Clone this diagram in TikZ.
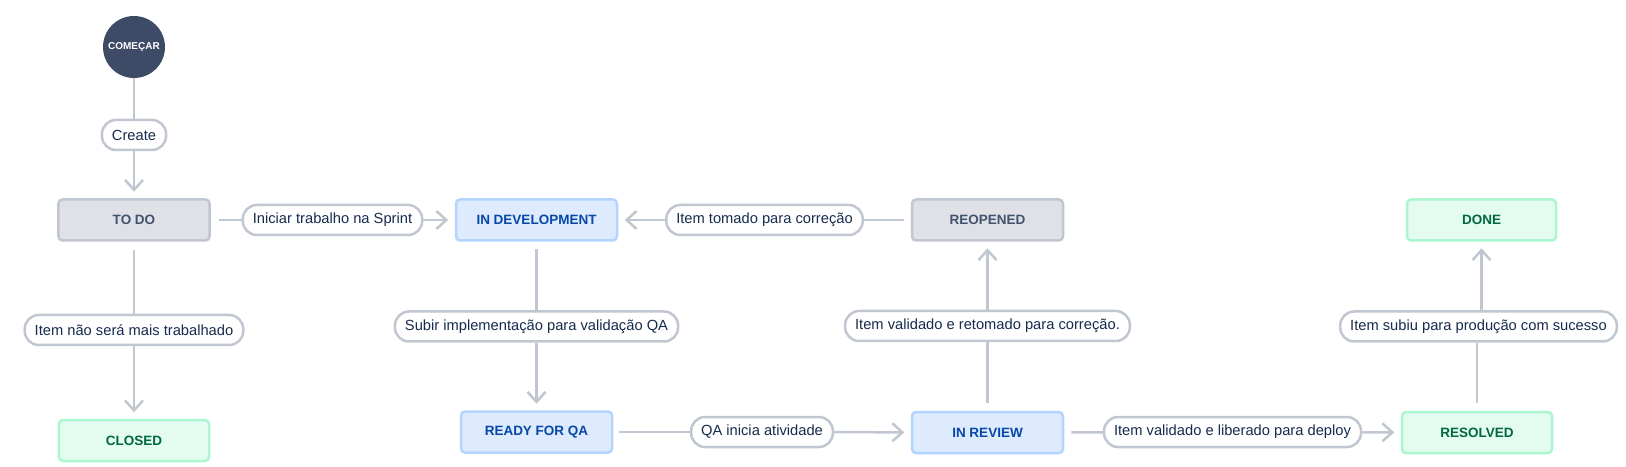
\documentclass[tikz,border=0pt]{standalone}
\usepackage{fontspec}
\setmainfont{Liberation Sans}
\usetikzlibrary{arrows.meta}
\definecolor{grayfill}{HTML}{DFE1E6}
\definecolor{grayborder}{HTML}{C1C7D0}
\definecolor{graytext}{HTML}{42526E}
\definecolor{bluefill}{HTML}{DEEBFF}
\definecolor{blueborder}{HTML}{B3D4FF}
\definecolor{bluetext}{HTML}{0747A6}
\definecolor{greenfill}{HTML}{E3FCEF}
\definecolor{greenborder}{HTML}{ABF5D1}
\definecolor{greentext}{HTML}{006644}
\definecolor{lineC}{HTML}{C1C7D0}
\definecolor{labeltext}{HTML}{172B4D}
\definecolor{startfill}{HTML}{3E4B66}
\begin{document}
\begin{tikzpicture}[x=1bp,y=-1bp,
  state/.style={draw, line width=2.5bp, rounded corners=4bp, minimum width=151bp, minimum height=41bp, inner sep=0pt, font=\fontsize{13.5bp}{16bp}\selectfont\bfseries},
  graybox/.style={state, fill=grayfill, draw=grayborder, text=graytext},
  bluebox/.style={state, fill=bluefill, draw=blueborder, text=bluetext},
  greenbox/.style={state, fill=greenfill, draw=greenborder, text=greentext},
  lbl/.style={draw=lineC, line width=2.5bp, fill=white, rounded corners=14bp, minimum height=30bp, inner xsep=10bp, inner ysep=0pt, text=labeltext, font=\fontsize{14.7bp}{17bp}\selectfont},
  conn/.style={draw=lineC, line width=2.5bp},
  arr/.style={conn, -{Straight Barb[length=10bp,width=18bp]}, shorten >=6.5bp}
]
\useasboundingbox (0,0) rectangle (1626,467);

\node[circle, fill=startfill, minimum size=62bp, inner sep=0pt, text=white, font=\fontsize{10bp}{12bp}\selectfont\bfseries] (start) at (134,47) {COMEÇAR};
\node[lbl] (create) at (134,135) {Create};

\node[graybox] (todo) at (134,220) {TO DO};
\node[bluebox, minimum width=161bp] (indev) at (536.5,220) {IN DEVELOPMENT};
\node[graybox] (reopened) at (987.5,220) {REOPENED};
\node[greenbox, minimum width=149bp] (done) at (1481.5,220) {DONE};

\node[bluebox] (ready) at (536.5,432) {READY FOR QA};
\node[bluebox] (inreview) at (987.5,432.5) {IN REVIEW};
\node[greenbox, minimum width=150bp] (resolved) at (1477,432.5) {RESOLVED};
\node[greenbox, minimum width=150bp] (closed) at (134,440.5) {CLOSED};

\node[lbl] (lini) at (332.5,220) {Iniciar trabalho na Sprint};
\node[lbl] (ltom) at (764.5,220) {Item tomado para correção};
\node[lbl] (lsub) at (536.5,326.5) {Subir implementação para validação QA};
\node[lbl] (lqa) at (762,432) {QA inicia atividade};
\node[lbl] (lret) at (987.5,326) {Item validado e retomado para correção.};
\node[lbl] (llib) at (1232.5,432) {Item validado e liberado para deploy};
\node[lbl] (lsub2) at (1478.5,326.5) {Item subiu para produção com sucesso};
\node[lbl] (lnao) at (134,330) {Item não será mais trabalhado};

\draw[conn] (start) -- (create);
\draw[arr] (create) -- (todo);
\draw[conn, shorten <=8bp] (todo) -- (lini);
\draw[arr] (lini) -- (indev);
\draw[conn, shorten <=7bp] (reopened) -- (ltom);
\draw[arr] (ltom) -- (indev);
\draw[conn, shorten <=7bp] (indev) -- (lsub);
\draw[arr] (lsub) -- (ready);
\draw[conn, shorten <=6bp] (ready) -- (lqa);
\draw[arr] (lqa) -- (inreview);
\draw[conn, shorten <=7bp] (inreview) -- (llib);
\draw[arr] (llib) -- (resolved);
\draw[conn, shorten <=8bp] (inreview) -- (lret);
\draw[arr] (lret) -- (reopened);
\draw[conn, shorten <=8bp] (resolved.north) -- (resolved.north |- lsub2.south);
\draw[arr] (lsub2.north -| done.south) -- (done.south);
\draw[conn, shorten <=8bp] (todo) -- (lnao);
\draw[arr] (lnao) -- (closed);
\end{tikzpicture}
\end{document}
